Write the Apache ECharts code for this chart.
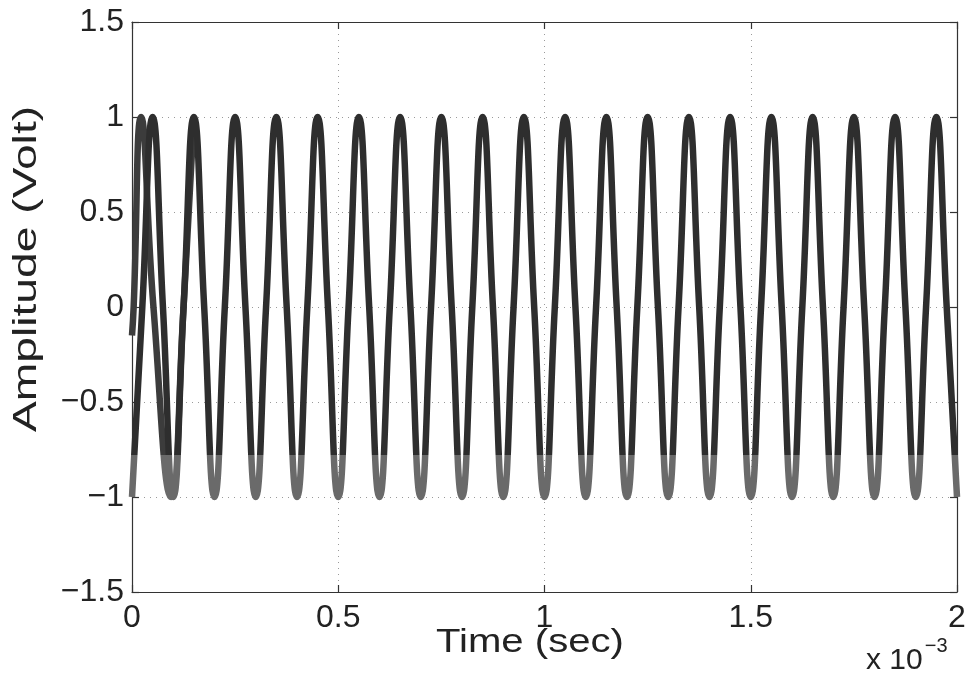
<!DOCTYPE html>
<html>
<head>
<meta charset="utf-8">
<script src="https://cdn.jsdelivr.net/npm/echarts@6/dist/echarts.min.js"></script>
<style>
  html, body { margin: 0; padding: 0; background: #fff; }
  #chart { width: 973px; height: 687px; }
</style>
</head>
<body>
<div id="chart"></div>
<script>
// Time axis in units of 1e-3 s (ms); values in volts.
const xTicks = [0, 0.5, 1, 1.5, 2];
const yTicks = [-1.5, -1, -0.5, 0, 0.5, 1, 1.5];

// Steady 10 kHz trace: troughs, zero crossings and crests (ms, V)
const steadyTime = [
  0, 0.025, 0.05, 0.075, 0.1, 0.125, 0.15, 0.175, 0.2, 0.225,
  0.25, 0.275, 0.3, 0.325, 0.35, 0.375, 0.4, 0.425, 0.45, 0.475,
  0.5, 0.525, 0.55, 0.575, 0.6, 0.625, 0.65, 0.675, 0.7, 0.725,
  0.75, 0.775, 0.8, 0.825, 0.85, 0.875, 0.9, 0.925, 0.95, 0.975,
  1.0, 1.025, 1.05, 1.075, 1.1, 1.125, 1.15, 1.175, 1.2, 1.225,
  1.25, 1.275, 1.3, 1.325, 1.35, 1.375, 1.4, 1.425, 1.45, 1.475,
  1.5, 1.525, 1.55, 1.575, 1.6, 1.625, 1.65, 1.675, 1.7, 1.725,
  1.75, 1.775, 1.8, 1.825, 1.85, 1.875, 1.9, 1.925, 1.95, 1.975,
  2.0
];
const steadyVolt = [
  -1, 0, 1, 0, -1, 0, 1, 0, -1, 0,
  1, 0, -1, 0, 1, 0, -1, 0, 1, 0,
  -1, 0, 1, 0, -1, 0, 1, 0, -1, 0,
  1, 0, -1, 0, 1, 0, -1, 0, 1, 0,
  -1, 0, 1, 0, -1, 0, 1, 0, -1, 0,
  1, 0, -1, 0, 1, 0, -1, 0, 1, 0,
  -1, 0, 1, 0, -1, 0, 1, 0, -1, 0,
  1, 0, -1, 0, 1, 0, -1, 0, 1, 0,
  -1
];

// Start-up trace that settles onto the steady one after the first cycle
const startTime = [0, 0.004, 0.022, 0.052, 0.095, 0.125, 0.15];
const startVolt = [-0.15, 0, 1, 0, -1, 0, 1];

const fontFamily = '"Liberation Sans", Arial, Helvetica, sans-serif';

// Ink is a little paler along the bottom band of the plot
function inkGradient(top) {
  return new echarts.graphic.LinearGradient(0, 0, 0, 687, [
    { offset: 0, color: top },
    { offset: 0.662, color: top },
    { offset: 0.662, color: '#6a6a6a' },
    { offset: 1, color: '#6a6a6a' }
  ], true);
}

function pairs(xs, ys) {
  return xs.map((x, i) => [x, ys[i]]);
}

function fmt(v) {
  const s = String(Math.round(v * 100) / 100);
  return s.replace('-', '\u2212');
}

const chart = echarts.init(document.getElementById('chart'), null, { renderer: 'canvas' });

const axisLine = { show: true, onZero: false, lineStyle: { color: '#333', width: 1.2 } };
const tickIn = { show: true, inside: true, length: 7, lineStyle: { color: '#333', width: 1.2 } };
const dotted = { show: true, lineStyle: { color: '#9a9a9a', type: [1, 5], width: 1 } };

chart.setOption({
  animation: false,
  backgroundColor: '#fff',
  grid: { left: 132, right: 16, top: 22, bottom: 95, containLabel: false },
  xAxis: [
    {
      type: 'value', min: xTicks[0], max: xTicks[xTicks.length - 1], interval: 0.5,
      position: 'bottom',
      axisLine: axisLine, axisTick: tickIn,
      axisLabel: { color: '#222', fontSize: 32, fontFamily: fontFamily, margin: 10, formatter: fmt },
      splitLine: dotted
    },
    {
      type: 'value', min: xTicks[0], max: xTicks[xTicks.length - 1], interval: 0.5,
      position: 'top',
      axisLine: axisLine, axisTick: tickIn,
      axisLabel: { show: false }, splitLine: { show: false }
    }
  ],
  yAxis: [
    {
      type: 'value', min: yTicks[0], max: yTicks[yTicks.length - 1], interval: 0.5,
      position: 'left',
      axisLine: axisLine, axisTick: tickIn,
      axisLabel: { color: '#222', fontSize: 32, fontFamily: fontFamily, margin: 8, formatter: fmt },
      splitLine: dotted
    },
    {
      type: 'value', min: yTicks[0], max: yTicks[yTicks.length - 1], interval: 0.5,
      position: 'right',
      axisLine: axisLine, axisTick: tickIn,
      axisLabel: { show: false }, splitLine: { show: false }
    }
  ],
  series: [
    {
      name: 'start', type: 'line', xAxisIndex: 0, yAxisIndex: 0,
      data: pairs(startTime, startVolt),
      smooth: 0.5, showSymbol: false, symbol: 'none',
      lineStyle: { width: 6.5, color: inkGradient('#3c3c3c') }, z: 2
    },
    {
      name: 'steady', type: 'line', xAxisIndex: 0, yAxisIndex: 0,
      data: pairs(steadyTime, steadyVolt),
      smooth: 0.5, showSymbol: false, symbol: 'none',
      lineStyle: { width: 6.5, color: inkGradient('#2e2e2e') }, z: 3
    }
  ],
  graphic: [
    {
      type: 'text', x: 436, y: 626, scaleX: 1.18,
      style: { text: 'Time (sec)', fontSize: 34, fontFamily: fontFamily, fill: '#222' }
    },
    {
      type: 'text', x: 10, y: 432, rotation: Math.PI / 2, scaleX: 1.4,
      style: { text: 'Amplitude (Volt)', fontSize: 33, fontFamily: fontFamily, fill: '#222' }
    },
    {
      type: 'text', x: 866, y: 636,
      style: {
        text: '{b|x 10}{s|\u22123}',
        rich: {
          b: { fontSize: 30, fontFamily: fontFamily, fill: '#222', verticalAlign: 'bottom', lineHeight: 38 },
          s: { fontSize: 20, fontFamily: fontFamily, fill: '#222', verticalAlign: 'top', padding: [0, 0, 20, 2] }
        }
      }
    }
  ]
});
</script>
</body>
</html>
